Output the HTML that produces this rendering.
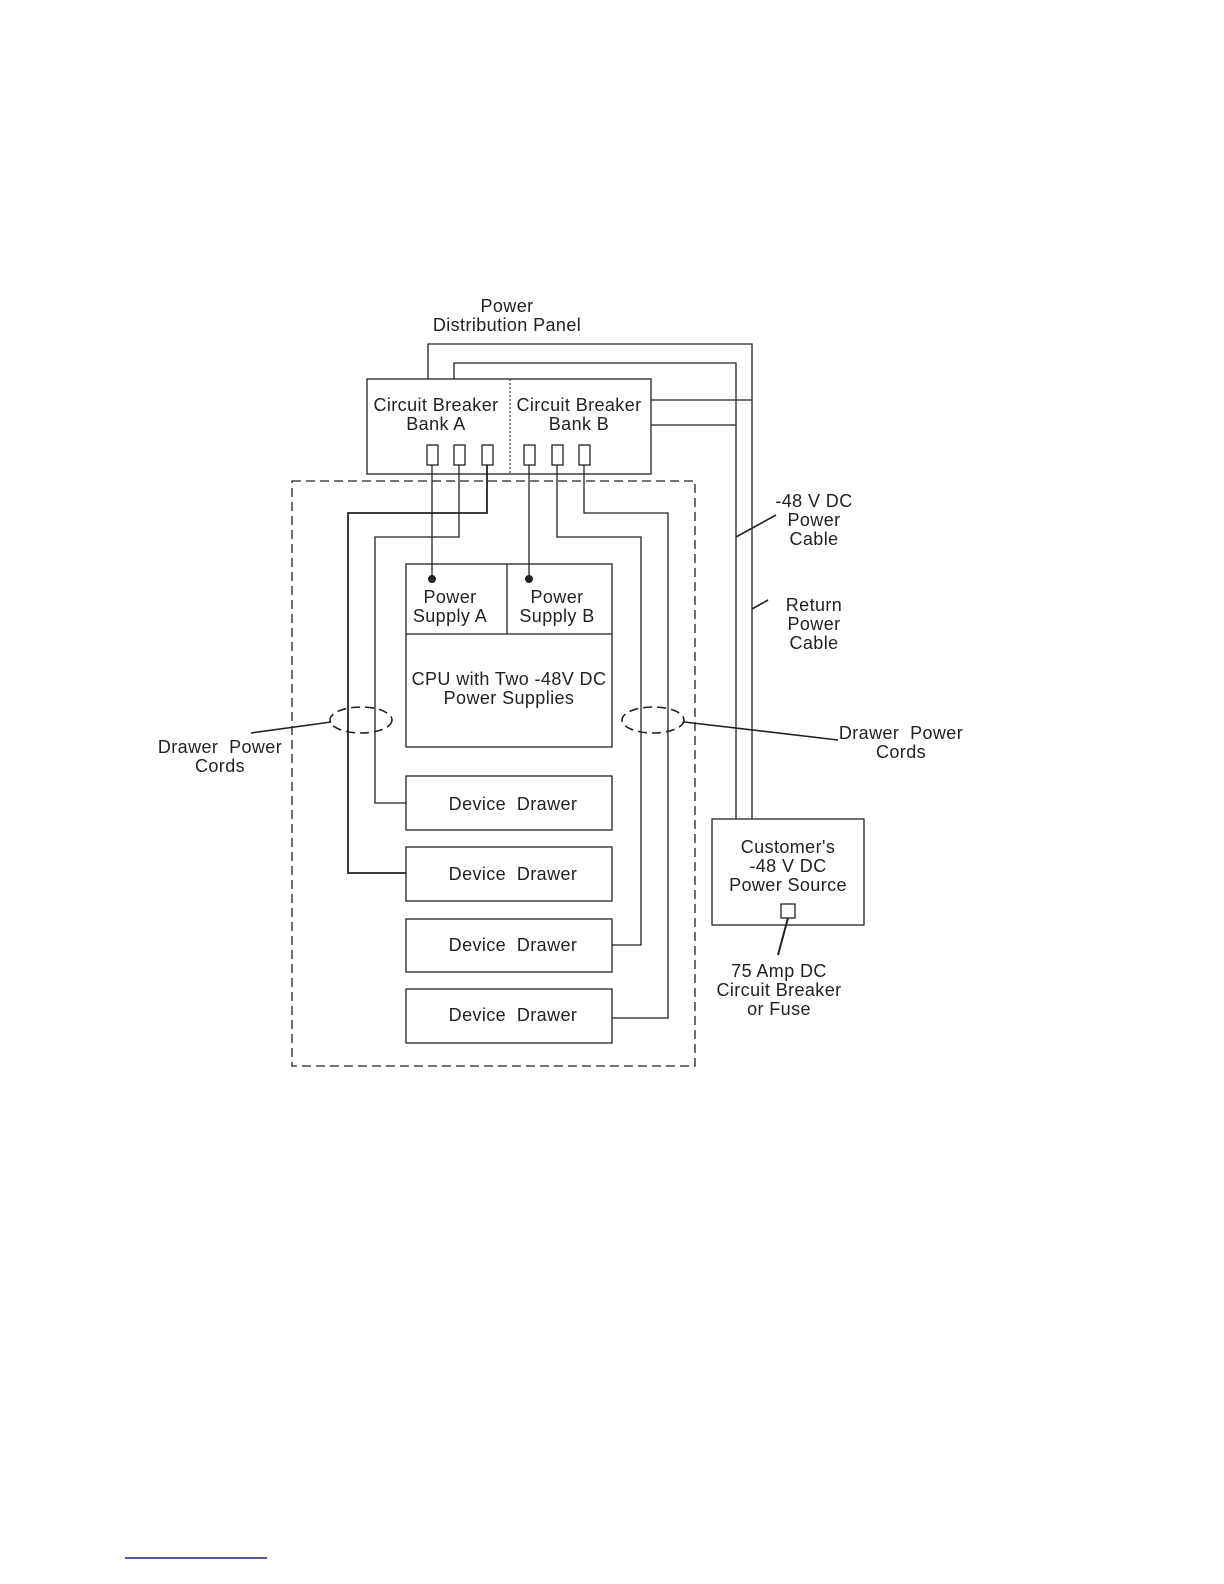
<!DOCTYPE html>
<html><head><style>
html,body{margin:0;padding:0;background:#fff;overflow:hidden;width:1224px;height:1584px;}
svg{display:block;position:absolute;left:0;top:0;}
text{font-family:"Liberation Sans",sans-serif;font-size:18px;letter-spacing:0.4px;fill:#222;text-anchor:middle;}
</style></head><body>
<svg width="1224" height="1584" viewBox="0 0 1224 1584" xmlns="http://www.w3.org/2000/svg">
<g stroke="#222" stroke-width="1.3" fill="none">
<polyline points="428,379 428,344 752,344 752,819"/>
<polyline points="454,379 454,363 736,363 736,819"/>
<line x1="651" y1="400" x2="752" y2="400"/>
<line x1="651" y1="425" x2="736" y2="425"/>
<rect x="367" y="379" width="284" height="95"/>
<line x1="510" y1="379" x2="510" y2="474" stroke-dasharray="2,2" stroke-width="1"/>
<rect x="427" y="445" width="11" height="20"/>
<rect x="454" y="445" width="11" height="20"/>
<rect x="482" y="445" width="11" height="20"/>
<rect x="524" y="445" width="11" height="20"/>
<rect x="552" y="445" width="11" height="20"/>
<rect x="579" y="445" width="11" height="20"/>
<rect x="292" y="481" width="403" height="585" stroke-dasharray="9,5"/>
<line x1="432" y1="465" x2="432" y2="579"/>
<line x1="529" y1="465" x2="529" y2="579"/>
<polyline points="459,465 459,537 375,537 375,803 406,803"/>
<polyline points="487,465 487,513 348,513 348,873 406,873" stroke-width="1.8"/>
<polyline points="557,465 557,537 641,537 641,945 612,945"/>
<polyline points="584,465 584,513 668,513 668,1018 612,1018"/>
<rect x="406" y="564" width="206" height="183"/>
<line x1="406" y1="634" x2="612" y2="634"/>
<line x1="507" y1="564" x2="507" y2="634"/>
<rect x="406" y="776" width="206" height="54"/>
<rect x="406" y="847" width="206" height="54"/>
<rect x="406" y="919" width="206" height="53"/>
<rect x="406" y="989" width="206" height="54"/>
<rect x="712" y="819" width="152" height="106"/>
<rect x="781" y="904" width="14" height="14"/>
<line x1="788" y1="918" x2="778" y2="955" stroke-width="2"/>
<ellipse cx="361" cy="720" rx="31" ry="13" stroke-dasharray="9,5" stroke-width="1.6"/>
<ellipse cx="653" cy="720" rx="31" ry="13" stroke-dasharray="9,5" stroke-width="1.6"/>
<line x1="331" y1="722" x2="251" y2="733" stroke-width="1.6"/>
<line x1="684" y1="722" x2="838" y2="740" stroke-width="1.6"/>
<line x1="736" y1="537" x2="776" y2="515" stroke-width="1.6"/>
<line x1="752" y1="609" x2="768" y2="600" stroke-width="1.6"/>
</g>
<circle cx="432" cy="579" r="4" fill="#222"/>
<circle cx="529" cy="579" r="4" fill="#222"/>
<line x1="125" y1="1558" x2="267" y2="1558" stroke="#1a1a80" stroke-width="1.5"/>
<text x="507" y="312">Power</text>
<text x="507" y="331">Distribution Panel</text>
<text x="436" y="411">Circuit Breaker</text>
<text x="436" y="430">Bank A</text>
<text x="579" y="411">Circuit Breaker</text>
<text x="579" y="430">Bank B</text>
<text x="450" y="603">Power</text>
<text x="450" y="622">Supply A</text>
<text x="557" y="603">Power</text>
<text x="557" y="622">Supply B</text>
<text x="509" y="685">CPU with Two -48V DC</text>
<text x="509" y="704">Power Supplies</text>
<text x="513" y="810">Device&#160; Drawer</text>
<text x="513" y="880">Device&#160; Drawer</text>
<text x="513" y="951">Device&#160; Drawer</text>
<text x="513" y="1021">Device&#160; Drawer</text>
<text x="814" y="507">-48 V DC</text>
<text x="814" y="526">Power</text>
<text x="814" y="545">Cable</text>
<text x="814" y="611">Return</text>
<text x="814" y="630">Power</text>
<text x="814" y="649">Cable</text>
<text x="220" y="753">Drawer&#160; Power</text>
<text x="220" y="772">Cords</text>
<text x="901" y="739">Drawer&#160; Power</text>
<text x="901" y="758">Cords</text>
<text x="788" y="853">Customer's</text>
<text x="788" y="872">-48 V DC</text>
<text x="788" y="891">Power Source</text>
<text x="779" y="977">75 Amp DC</text>
<text x="779" y="996">Circuit Breaker</text>
<text x="779" y="1015">or Fuse</text>
</svg>
</body></html>
